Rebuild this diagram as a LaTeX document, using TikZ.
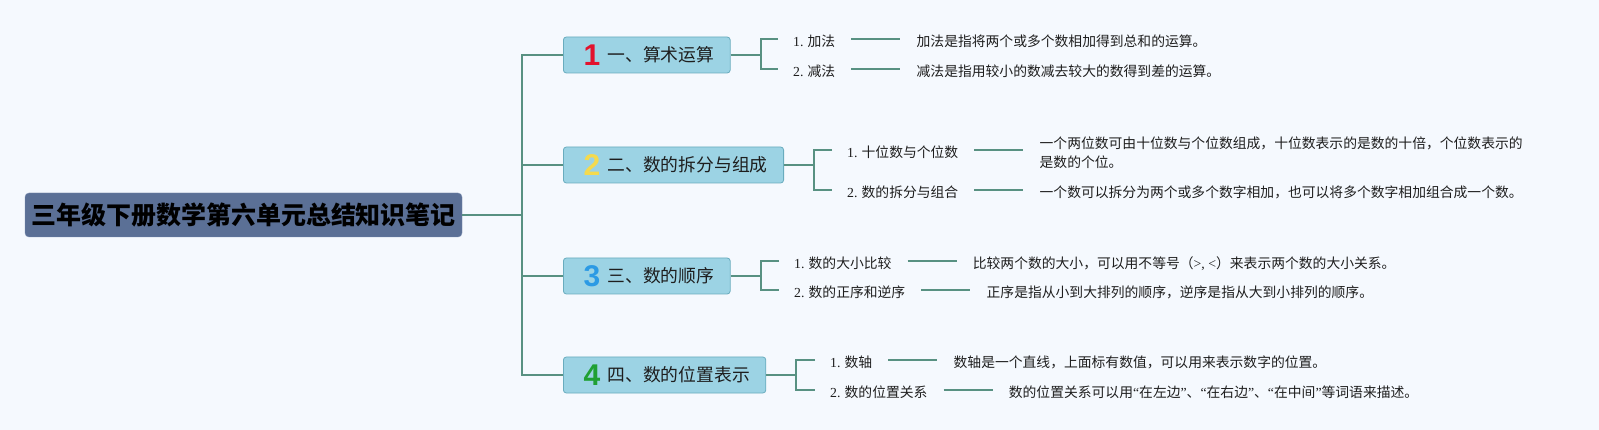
\documentclass[tikz,border=0pt]{standalone}
\usepackage{fontspec}
\setmainfont{Noto Sans CJK SC}
\newfontfamily\numfont{Liberation Serif}
\newfontfamily\digfont{Liberation Sans}
\usetikzlibrary{positioning}

\definecolor{bgcol}{RGB}{245,249,254}
\definecolor{linkcol}{RGB}{88,145,130}
\definecolor{rootfill}{RGB}{91,112,150}
\definecolor{rootedge}{RGB}{122,142,176}
\definecolor{topicfill}{RGB}{156,211,228}
\definecolor{topicedge}{RGB}{105,172,190}
\definecolor{numred}{RGB}{226,18,45}
\definecolor{numyellow}{RGB}{244,218,78}
\definecolor{numblue}{RGB}{44,154,228}
\definecolor{numgreen}{RGB}{32,160,52}
\definecolor{txt}{RGB}{30,30,30}

\newcommand\topictext[3]{\hspace*{20pt}\makebox[17pt]{\raisebox{-4pt}{\digfont\bfseries\fontsize{30}{30}\selectfont\color{#1}#2}}\hspace*{7pt}#3\hspace*{16pt}}

\begin{document}
\begin{tikzpicture}[x=1pt,y=-1pt,
  link/.style={draw=linkcol,line width=1.8pt},
  root/.style={fill=rootfill,draw=rootedge,rounded corners=4pt,minimum width=437pt,minimum height=44pt,inner sep=0pt,font=\fontsize{25}{25}\selectfont\bfseries,text=black},
  topic/.style={fill=topicfill,draw=topicedge,line width=0.8pt,rounded corners=3pt,anchor=west,minimum height=36pt,inner sep=0pt,text height=13.6pt,text depth=0pt,font=\fontsize{17.8}{20}\selectfont,text=txt},
  lab/.style={anchor=west,inner sep=0pt,text height=14.4pt,text depth=0pt,font=\fontsize{13.8}{19}\selectfont,text=txt},
  descbase/.style={inner sep=0pt,font=\fontsize{13.8}{19}\selectfont,text=txt},
  desc/.style={descbase,text height=14.4pt,text depth=0pt}]
  \fill[bgcol] (0,0) rectangle (1599,430);

  % root and main topics
  \node[root] (root) at (243.5,215) {三年级下册数学第六单元总结知识笔记};
  \coordinate (trunk) at (522,215);
  \node[topic] (t1) at (563,55) {\topictext{numred}{1}{一、算术运算}};
  \node[topic] (t2) at (563,165) {\topictext{numyellow}{2}{二、数的拆分与组成}};
  \node[topic] (t3) at (563,276) {\topictext{numblue}{3}{三、数的顺序}};
  \node[topic] (t4) at (563,375) {\topictext{numgreen}{4}{四、数的位置表示}};
  \draw[link] (root.east) -- (trunk);
  \draw[link] (t1.west) -| (trunk) |- (t4.west);
  \draw[link] (trunk |- t2.west) -- (t2.west);
  \draw[link] (trunk |- t3.west) -- (t3.west);

  % topic 1
  \node[lab] (a1) at (793,39) {{\numfont 1.} 加法};
  \node[desc,right=81pt of a1] (da1) {加法是指将两个或多个数相加得到总和的运算。};
  \node[lab] (a2) at (793,69) {{\numfont 2.} 减法};
  \node[desc,right=81pt of a2] (da2) {减法是指用较小的数减去较大的数得到差的运算。};
  \draw[link] (t1.east) -- ++(30,0) coordinate (k1);
  \draw[link,shorten <=15pt,shorten >=15pt] (a1.west) -| (k1) |- (a2.west);

  % topic 2
  \node[lab] (b1) at (847,150) {{\numfont 1.} 十位数与个位数};
  \node[descbase,align=left,right=81pt of b1,yshift=-2.5pt] (db1) {一个两位数可由十位数与个位数组成，十位数表示的是数的十倍，个位数表示的\\是数的个位。};
  \node[lab] (b2) at (847,190) {{\numfont 2.} 数的拆分与组合};
  \node[desc,right=81pt of b2] (db2) {一个数可以拆分为两个或多个数字相加，也可以将多个数字相加组合成一个数。};
  \draw[link] (t2.east) -- ++(30,0) coordinate (k2);
  \draw[link,shorten <=15pt,shorten >=15pt] (b1.west) -| (k2) |- (b2.west);

  % topic 3
  \node[lab] (c1) at (794,261) {{\numfont 1.} 数的大小比较};
  \node[desc,right=81pt of c1] (dc1) {比较两个数的大小，可以用不等号（{\numfont >, <}）来表示两个数的大小关系。};
  \node[lab] (c2) at (794,290) {{\numfont 2.} 数的正序和逆序};
  \node[desc,right=81pt of c2] (dc2) {正序是指从小到大排列的顺序，逆序是指从大到小排列的顺序。};
  \draw[link] (t3.east) -- ++(30,0) coordinate (k3);
  \draw[link,shorten <=15pt,shorten >=15pt] (c1.west) -| (k3) |- (c2.west);

  % topic 4
  \node[lab] (e1) at (830,360) {{\numfont 1.} 数轴};
  \node[desc,right=81pt of e1] (de1) {数轴是一个直线，上面标有数值，可以用来表示数字的位置。};
  \node[lab] (e2) at (830,390) {{\numfont 2.} 数的位置关系};
  \node[desc,right=81pt of e2] (de2) {数的位置关系可以用{\numfont “}在左边{\numfont ”}、{\numfont “}在右边{\numfont ”}、{\numfont “}在中间{\numfont ”}等词语来描述。};
  \draw[link] (t4.east) -- ++(30,0) coordinate (k4);
  \draw[link,shorten <=15pt,shorten >=15pt] (e1.west) -| (k4) |- (e2.west);

  % label to text links
  \draw[link,shorten <=16pt,shorten >=16pt] (a1.east) -- (a1.east -| da1.west);
  \draw[link,shorten <=16pt,shorten >=16pt] (a2.east) -- (a2.east -| da2.west);
  \draw[link,shorten <=16pt,shorten >=16pt] (b1.east) -- (b1.east -| db1.west);
  \draw[link,shorten <=16pt,shorten >=16pt] (b2.east) -- (b2.east -| db2.west);
  \draw[link,shorten <=16pt,shorten >=16pt] (c1.east) -- (c1.east -| dc1.west);
  \draw[link,shorten <=16pt,shorten >=16pt] (c2.east) -- (c2.east -| dc2.west);
  \draw[link,shorten <=16pt,shorten >=16pt] (e1.east) -- (e1.east -| de1.west);
  \draw[link,shorten <=16pt,shorten >=16pt] (e2.east) -- (e2.east -| de2.west);
\end{tikzpicture}
\end{document}
